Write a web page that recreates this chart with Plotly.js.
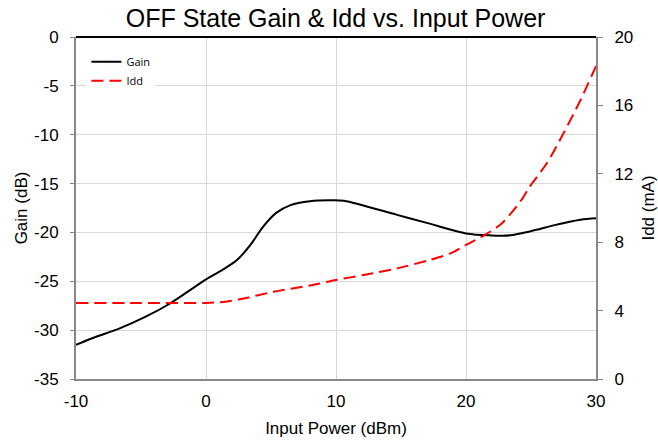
<!DOCTYPE html>
<html><head><meta charset="utf-8">
<script src="https://cdn.plot.ly/plotly-3.0.1.min.js"></script>
<style>html,body{margin:0;padding:0;background:#fff}</style>
</head><body>
<div id="chart" style="width:658px;height:440px"></div>
<script>
const gainX = [-10, -8.7, -6.6, -4.6, -2.8, -1.0, 0, 1.3, 2.4, 3.4, 4.4, 5.4, 6.5, 8.0, 9.5, 10.6, 12.1, 14.7, 17.2, 18.5, 20.0, 21.8, 23.4, 24.9, 27.0, 28.8, 30];
const gainY = [-31.5, -30.8, -29.8, -28.6, -27.3, -25.7, -24.8, -23.8, -22.8, -21.3, -19.4, -18.0, -17.2, -16.8, -16.7, -16.75, -17.25, -18.2, -19.1, -19.6, -20.1, -20.3, -20.3, -19.9, -19.2, -18.7, -18.55];
const iddX = [-10, -5, 0, 1.5, 2.6, 5.2, 8.2, 10.0, 12.1, 14.7, 17.2, 18.8, 20.0, 21.3, 22.7, 24.2, 24.9, 26.2, 27.5, 28.8, 30];
const iddY = [4.45, 4.45, 4.45, 4.52, 4.66, 5.1, 5.5, 5.79, 6.08, 6.47, 6.96, 7.35, 7.84, 8.36, 9.06, 10.4, 11.25, 12.6, 14.37, 16.3, 18.3];
const xTicks = [-10, 0, 10, 20, 30];
const gainTicks = [0, -5, -10, -15, -20, -25, -30, -35];
const iddTicks = [0, 4, 8, 12, 16, 20];

const traces = [
  {x: gainX, y: gainY, name: 'Gain', type: 'scatter', mode: 'lines', line: {color: '#000', width: 2, shape: 'spline', smoothing: 1}},
  {x: iddX, y: iddY, name: 'Idd', type: 'scatter', mode: 'lines', yaxis: 'y2', line: {color: '#ff0000', width: 2, dash: '12px,6px', shape: 'spline', smoothing: 0.8}}
];
const font = {family: 'Liberation Sans, Arial, sans-serif', color: '#000'};
const layout = {
  width: 658, height: 440,
  margin: {l: 76, r: 62, t: 37, b: 61},
  paper_bgcolor: '#fff', plot_bgcolor: '#fff',
  font: font,
  title: {text: 'OFF State Gain &amp; Idd vs. Input Power', font: {size: 25, family: font.family, color: '#000'}, x: 0.51, xanchor: 'center', y: 0.958, yanchor: 'middle'},
  xaxis: {range: [-10, 30], tickvals: xTicks, ticktext: xTicks.map(String), showgrid: true, gridcolor: '#d9d9d9', gridwidth: 1,
    zeroline: false, showline: true, linecolor: '#888', linewidth: 2, ticks: '', tickfont: {size: 17}, ticklabelstandoff: 6,
    title: {text: 'Input Power (dBm)', font: {size: 17}, standoff: 12}},
  yaxis: {range: [-35, 0], tickvals: gainTicks, ticktext: gainTicks.map(String), showgrid: true, gridcolor: '#d9d9d9', gridwidth: 1,
    zeroline: false, showline: true, linecolor: '#888', linewidth: 2, ticks: 'outside', ticklen: 4, tickcolor: '#888', tickfont: {size: 17}, ticklabelstandoff: 8,
    title: {text: 'Gain (dB)', font: {size: 17}, standoff: 2}},
  yaxis2: {range: [0, 20], overlaying: 'y', side: 'right', tickvals: iddTicks, ticktext: iddTicks.map(String), showgrid: false,
    zeroline: false, showline: true, linecolor: '#888', linewidth: 2, ticks: 'outside', ticklen: 5, tickcolor: '#888', tickfont: {size: 17}, ticklabelstandoff: 8,
    title: {text: 'Idd (mA)', font: {size: 17}, standoff: 14}},
  showlegend: true,
  legend: {x: 0.02, y: 0.97, xanchor: 'left', yanchor: 'top', bgcolor: '#fff', font: {size: 11, family: 'Open Sans, sans-serif', color: '#000'}, itemwidth: 30},
  shapes: [{type: 'line', xref: 'paper', yref: 'paper', x0: 0, x1: 1, y0: 1, y1: 1, line: {color: '#000', width: 2}}]
};
Plotly.newPlot('chart', traces, layout, {displayModeBar: false, staticPlot: true});
</script>
</body></html>
